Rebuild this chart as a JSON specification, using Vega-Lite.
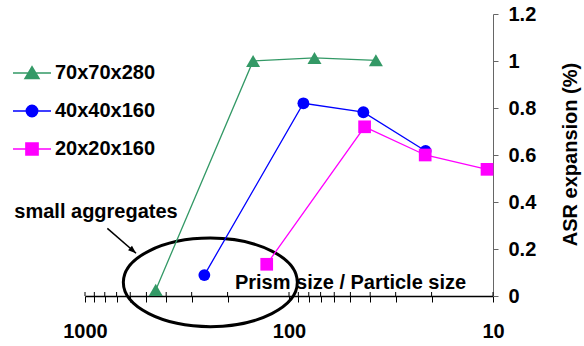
{
  "$schema": "https://vega.github.io/schema/vega-lite/v6.json",
  "width": 408,
  "height": 282,
  "autosize": {"type": "none"},
  "padding": {"left": 85, "top": 14, "right": 91, "bottom": 50},
  "background": "white",
  "config": {
    "view": {"stroke": null},
    "font": "Liberation Sans",
    "text": {"font": "Liberation Sans"}
  },
  "datasets": {
    "series": [
      {"series": "70x70x280", "ratio": 450, "asr": 0.026},
      {"series": "70x70x280", "ratio": 150, "asr": 1.0},
      {"series": "70x70x280", "ratio": 75, "asr": 1.013},
      {"series": "70x70x280", "ratio": 37.5, "asr": 1.003},
      {"series": "40x40x160", "ratio": 260, "asr": 0.089},
      {"series": "40x40x160", "ratio": 85, "asr": 0.82},
      {"series": "40x40x160", "ratio": 43.2, "asr": 0.782},
      {"series": "40x40x160", "ratio": 21.4, "asr": 0.617},
      {"series": "20x20x160", "ratio": 128.6, "asr": 0.135},
      {"series": "20x20x160", "ratio": 42.6, "asr": 0.72},
      {"series": "20x20x160", "ratio": 21.5, "asr": 0.6},
      {"series": "20x20x160", "ratio": 10.7, "asr": 0.539}
    ],
    "ticks": [
      {"ratio": 1000}, {"ratio": 900}, {"ratio": 800}, {"ratio": 700}, {"ratio": 600},
      {"ratio": 500}, {"ratio": 400}, {"ratio": 300}, {"ratio": 200}, {"ratio": 100},
      {"ratio": 90}, {"ratio": 80}, {"ratio": 70}, {"ratio": 60}, {"ratio": 50},
      {"ratio": 40}, {"ratio": 30}, {"ratio": 20}, {"ratio": 10}
    ],
    "ellipse": [{"ratio": 243, "asr": 0.058}],
    "arrow": [{"ratio": 777, "asr": 0.288, "ratio2": 562, "asr2": 0.182}],
    "note": [{"ratio": 883, "asr": 0.359, "label": "small aggregates"}]
  },
  "layer": [
    {
      "data": {"name": "ticks"},
      "mark": {"type": "rule", "color": "black", "strokeWidth": 1},
      "encoding": {
        "x": {"field": "ratio", "type": "quantitative"},
        "y": {"datum": 0, "type": "quantitative"},
        "y2": {"datum": 0.017}
      }
    },
    {
      "data": {"name": "ellipse"},
      "mark": {
        "type": "point",
        "filled": false,
        "stroke": "black",
        "strokeWidth": 3,
        "opacity": 1,
        "size": 30276,
        "shape": "M-1,0C-1,-0.281 -0.552,-0.509 0,-0.509C0.552,-0.509 1,-0.281 1,0C1,0.281 0.552,0.509 0,0.509C-0.552,0.509 -1,0.281 -1,0Z"
      },
      "encoding": {
        "x": {"field": "ratio", "type": "quantitative"},
        "y": {"field": "asr", "type": "quantitative"}
      }
    },
    {
      "data": {"name": "series"},
      "mark": {"type": "line", "strokeWidth": 1.3},
      "encoding": {
        "x": {
          "field": "ratio",
          "type": "quantitative",
          "scale": {"type": "log", "domain": [10, 1000], "reverse": true, "nice": false},
          "axis": {
            "values": [1000, 900, 800, 700, 600, 500, 400, 300, 200, 100, 90, 80, 70, 60, 50, 40, 30, 20, 10],
            "labelExpr": "datum.value == 1000 || datum.value == 100 || datum.value == 10 ? format(datum.value, 'd') : ''",
            "labelOverlap": false,
            "labelFlush": false,
            "labelFont": "Liberation Sans",
            "labelFontSize": 20,
            "labelFontWeight": "bold",
            "labelColor": "black",
            "labelPadding": 19,
            "grid": false,
            "domainColor": "black",
            "domainWidth": 1.5,
            "tickColor": "black",
            "tickWidth": 1,
            "tickSize": 6,
            "title": "Prism size / Particle size",
            "titleFont": "Liberation Sans",
            "titleFontSize": 20,
            "titleFontWeight": "bold",
            "titleColor": "black",
            "titleX": 265,
            "titleY": -8,
            "titleAlign": "center",
            "titleBaseline": "alphabetic"
          }
        },
        "y": {
          "field": "asr",
          "type": "quantitative",
          "scale": {"domain": [0, 1.2], "nice": false, "zero": true},
          "axis": {
            "orient": "right",
            "values": [0, 0.2, 0.4, 0.6, 0.8, 1, 1.2],
            "format": "~g",
            "grid": false,
            "labelFont": "Liberation Sans",
            "labelFontSize": 20,
            "labelFontWeight": "bold",
            "labelColor": "black",
            "labelPadding": 10,
            "labelBaseline": "middle",
            "domainColor": "#666666",
            "domainWidth": 1,
            "tickColor": "#666666",
            "tickSize": 5,
            "title": "ASR expansion (%)",
            "titleFont": "Liberation Sans",
            "titleFontSize": 20,
            "titleFontWeight": "bold",
            "titleColor": "black",
            "titleAngle": 270,
            "titleX": 77,
            "titleY": 140,
            "titleAlign": "center",
            "titleBaseline": "middle"
          }
        },
        "color": {
          "field": "series",
          "type": "nominal",
          "sort": ["70x70x280", "40x40x160", "20x20x160"],
          "scale": {
            "domain": ["70x70x280", "40x40x160", "20x20x160"],
            "range": ["#339966", "#0000ff", "#ff00ff"]
          },
          "legend": {
            "orient": "none",
            "legendX": -73,
            "legendY": 39,
            "title": null,
            "padding": 0,
            "rowPadding": 8,
            "symbolSize": 1444,
            "symbolStrokeWidth": 1.5,
            "symbolType": {"expr": "datum.value === '70x70x280' ? 'M-1,0H1M-0.37,0.29L0,-0.33L0.37,0.29Z' : datum.value === '40x40x160' ? 'M-1,0H1M-0.3,0C-0.3,-0.166 -0.166,-0.3 0,-0.3C0.166,-0.3 0.3,-0.166 0.3,0C0.3,0.166 0.166,0.3 0,0.3C-0.166,0.3 -0.3,0.166 -0.3,0Z' : 'M-1,0H1M-0.32,-0.32H0.32V0.32H-0.32Z'"},
            "symbolStrokeColor": {"expr": "scale('color', datum.value)"},
            "symbolFillColor": {"expr": "scale('color', datum.value)"},
            "symbolOpacity": 1,
            "labelFont": "Liberation Sans",
            "labelFontSize": 20,
            "labelFontWeight": "bold",
            "labelColor": "black",
            "labelOffset": 3,
            "labelBaseline": "middle"
          }
        },
        "detail": {"field": "series"}
      }
    },
    {
      "data": {"name": "series"},
      "transform": [{"filter": "datum.series === '70x70x280'"}],
      "mark": {"type": "point", "filled": true, "opacity": 1, "shape": "triangle-up", "size": 196},
      "encoding": {
        "x": {"field": "ratio", "type": "quantitative"},
        "y": {"field": "asr", "type": "quantitative"},
        "color": {"field": "series", "type": "nominal"}
      }
    },
    {
      "data": {"name": "series"},
      "transform": [{"filter": "datum.series === '40x40x160'"}],
      "mark": {"type": "point", "filled": true, "opacity": 1, "shape": "circle", "size": 140},
      "encoding": {
        "x": {"field": "ratio", "type": "quantitative"},
        "y": {"field": "asr", "type": "quantitative"},
        "color": {"field": "series", "type": "nominal"}
      }
    },
    {
      "data": {"name": "series"},
      "transform": [{"filter": "datum.series === '20x20x160'"}],
      "mark": {"type": "point", "filled": true, "opacity": 1, "shape": "square", "size": 161},
      "encoding": {
        "x": {"field": "ratio", "type": "quantitative"},
        "y": {"field": "asr", "type": "quantitative"},
        "color": {"field": "series", "type": "nominal"}
      }
    },
    {
      "data": {"name": "arrow"},
      "mark": {"type": "rule", "color": "black", "strokeWidth": 1.5},
      "encoding": {
        "x": {"field": "ratio", "type": "quantitative"},
        "x2": {"field": "ratio2"},
        "y": {"field": "asr", "type": "quantitative"},
        "y2": {"field": "asr2"}
      }
    },
    {
      "data": {"name": "arrow"},
      "mark": {
        "type": "point",
        "filled": true,
        "color": "black",
        "opacity": 1,
        "size": 64,
        "angle": 41,
        "shape": "M0,0L-2,-0.75L-2,0.75Z"
      },
      "encoding": {
        "x": {"field": "ratio2", "type": "quantitative"},
        "y": {"field": "asr2", "type": "quantitative"}
      }
    },
    {
      "data": {"name": "note"},
      "mark": {
        "type": "text",
        "font": "Liberation Sans",
        "fontSize": 20,
        "fontWeight": "bold",
        "color": "black",
        "align": "center",
        "baseline": "middle"
      },
      "encoding": {
        "x": {"field": "ratio", "type": "quantitative"},
        "y": {"field": "asr", "type": "quantitative"},
        "text": {"field": "label"}
      }
    }
  ]
}
